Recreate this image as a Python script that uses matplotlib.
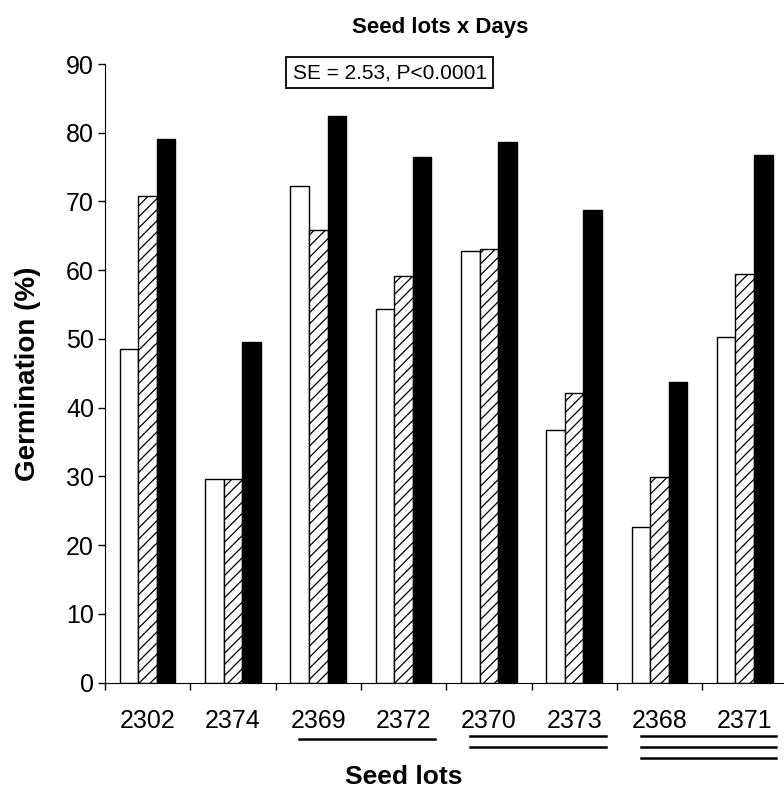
import numpy as np
import matplotlib.pyplot as plt
from matplotlib.transforms import blended_transform_factory

plt.rcParams["font.family"] = ["Liberation Sans", "DejaVu Sans"]
plt.rcParams["hatch.linewidth"] = 0.9

lotes = ["2302", "2374", "2369", "2372", "2370", "2373", "2368", "2371"]
dia_1 = [48.5, 29.7, 72.3, 54.3, 62.8, 36.7, 22.6, 50.3]
dia_2 = [70.8, 29.7, 65.8, 59.2, 63.1, 42.2, 29.9, 59.4]
dia_3 = [79.1, 49.6, 82.5, 76.5, 78.7, 68.7, 43.8, 76.8]

# grupos sin diferencia (inicio, fin, numero de lineas)
grupos = [(2, 3, 1), (4, 5, 2), (6, 7, 3)]

fig = plt.figure(figsize=(7.84, 7.90), dpi=100)
ax = fig.add_axes([105 / 784, 1 - 682.7 / 790, 679 / 784, 618.7 / 790])

x = np.arange(len(lotes)) + 0.5
ancho = 0.217
ax.bar(x - ancho, dia_1, ancho, color="white", edgecolor="black", linewidth=1)
ax.bar(x, dia_2, ancho, color="white", edgecolor="black", linewidth=1, hatch="///")
ax.bar(x + ancho, dia_3, ancho, color="black", edgecolor="black", linewidth=1)

ax.set_xlim(0, 679 / 85.3)
ax.set_ylim(0, 90)
ax.set_yticks(range(0, 91, 10))
ax.set_xticks(range(0, 8))
ax.set_xticklabels([])
ax.set_xticks(x, minor=True)
ax.set_xticklabels(lotes, minor=True, fontsize=18)
ax.tick_params(axis="x", which="minor", length=0, pad=19)
ax.tick_params(axis="x", which="major", direction="out", length=5, width=1)
ax.tick_params(axis="y", direction="out", length=5, width=1, labelsize=18, pad=3)
ax.spines["top"].set_visible(False)
ax.spines["right"].set_visible(False)

ax.set_ylabel("Germination (%)", fontsize=20, fontweight="bold")
ax.yaxis.set_label_coords(-0.094, 0.5)
fig.text(404 / 784, 1 - 777 / 790, "Seed lots", fontsize=19, fontweight="bold",
         ha="center", va="center")
fig.text(440 / 784, 1 - 27 / 790, "Seed lots x Days", fontsize=16, fontweight="bold",
         ha="center", va="center")

ax.text(0.419, 0.986, "SE = 2.53, P<0.0001", transform=ax.transAxes,
        fontsize=15, ha="center", va="center",
        bbox=dict(boxstyle="square,pad=0.3", fc="white", ec="black", lw=1.3))

# lineas bajo los lotes
trans = blended_transform_factory(ax.transData, ax.transAxes)
for ini, fin, n in grupos:
    y0 = -0.091 if n == 1 else -0.086
    for k in range(n):
        ax.plot([ini + 0.28, fin + 0.87], [y0 - 0.0178 * k] * 2, color="black",
                lw=1.8, transform=trans, clip_on=False)

fig.savefig("out.png", dpi=100)
